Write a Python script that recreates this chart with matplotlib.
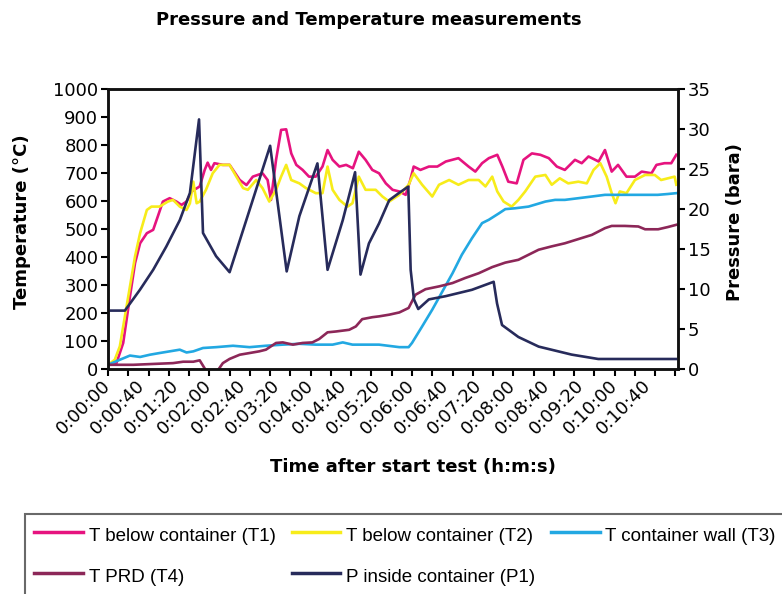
import matplotlib
matplotlib.use('Agg')
import matplotlib.pyplot as plt

# time in seconds, temperature in deg C, pressure in bara
t1_time = [0, 10, 18, 26, 32, 38, 46, 53.5, 59, 65, 73, 81, 87, 93, 99, 108.6, 114.5, 118, 122, 126,
           136, 144, 148, 156, 164, 171.5, 183, 189, 193, 199, 205, 211, 217, 223, 230.5, 238, 246,
           254, 260, 266, 274, 282, 290, 297, 305, 313, 321, 329, 337, 345, 352.5, 358, 362, 370,
           380, 390, 400, 415, 427, 435, 443, 451, 461, 467, 474, 484, 492, 502, 512, 522, 531.5,
           541, 553, 561, 569, 581, 588.5, 596.5, 604, 614, 624, 632, 643.6, 649.5, 659, 667, 673]
t1_temp = [15, 21, 93, 259, 378, 449, 485, 497, 545, 598, 610, 598, 586, 598, 634, 652, 711, 737, 711, 735,
           729, 729, 711, 675, 657, 687, 699, 675, 604, 747, 854, 856, 770, 729, 711, 687, 687,
           723, 782, 747, 723, 729, 717, 776, 747, 711, 699, 663, 640, 634, 622, 675, 723, 711,
           723, 723, 741, 753, 723, 705, 735, 753, 765, 723, 669, 663, 747, 770, 765, 753, 723,
           711, 747, 735, 759, 741, 782, 705, 729, 687, 687, 705, 699, 729, 735, 735, 765]

t2_time = [0, 8, 14, 20, 26, 32, 38, 46, 51.5, 61, 71, 77, 85, 93, 97, 101, 105, 108.6, 116, 124, 132,
           144, 152, 160, 165.6, 175.5, 183, 191, 199, 205, 211, 217, 226.6, 234.5, 246, 254, 260,
           266, 274, 283.6, 289.5, 297, 305, 317, 325, 333, 345, 356, 362, 372, 384, 392, 404, 415,
           427, 439, 447, 455, 461, 468.5, 478, 486, 494, 506, 518, 525.5, 535, 545, 557, 567, 575,
           583, 590.5, 596.5, 601, 606, 614, 624, 636, 647.5, 655, 663, 671, 673]
t2_temp = [15, 33, 81, 188, 295, 402, 485, 568, 580, 580, 598, 604, 580, 568, 592, 669, 592, 598, 640, 699, 729,
           729, 687, 646, 640, 675, 646, 598, 640, 687, 729, 675, 663, 646, 628, 628, 723,
           640, 604, 580, 592, 687, 640, 640, 616, 598, 622, 658, 699, 658, 616, 658, 675, 658,
           675, 675, 652, 687, 634, 598, 580, 604, 634, 687, 693, 658, 681, 663, 669, 663, 711,
           735, 687, 628, 592, 634, 628, 675, 693, 693, 675, 681, 687, 658]

t3_time = [0, 14, 26, 38, 49.6, 61, 73, 85, 93, 101, 112.5, 128, 148, 167.6, 187, 207, 226.6, 246, 266,
           278, 289.5, 305, 321, 337, 345, 356, 360, 372, 384, 396, 408, 419, 431, 443, 451, 463,
           470.5, 482, 498, 518, 529.5, 541, 557, 573, 588.5, 604, 620, 636, 651, 663, 673]
t3_temp = [15, 33, 48, 43, 51, 57, 63, 69, 59, 63, 75, 78, 83, 78, 83, 87, 90, 87, 87,
           95, 87, 87, 87, 81, 78, 78, 93, 152, 212, 277, 342, 408, 467, 521, 533, 556,
           571, 574, 580, 598, 604, 604, 610, 616, 622, 622, 622, 622, 622, 625, 628]

t4_time = [0, 30, 61, 77, 89, 101, 108.6, 120, 130, 136, 144, 156, 167.6, 179, 187, 193, 199, 207,
           219, 230.5, 242, 250, 260, 270, 285.6, 293.5, 301, 313, 321, 333, 345, 356, 364, 376,
           392, 408, 423, 439, 455, 470.5, 486, 498, 510, 525.5, 541, 557, 573, 588.5, 596.5,
           612, 628, 636, 651.5, 663, 673]
t4_temp = [15, 15, 19, 21, 26, 26, 31, -25, -5, 21, 36, 51, 57, 63, 69, 81, 93, 95,
           87, 93, 95, 107, 131, 134, 140, 152, 178, 185, 188, 194, 202, 218, 265, 285,
           295, 307, 325, 342, 364, 380, 390, 408, 426, 438, 449, 464, 479, 503, 511,
           511, 509, 499, 499, 507, 515]

p1_time = [0, 20, 37.8, 53.5, 69, 85, 97, 107.8, 112.5, 128, 144, 192, 211.6, 226.6, 248, 260, 278,
           292.6, 299, 309, 321, 333, 344.6, 355.6, 358.4, 362.3, 367.4, 380, 399.7, 431, 456.7,
           460.7, 466.6, 486, 510, 549, 580.6, 673]
p1_pres = [7.3, 7.3, 9.9, 12.4, 15.3, 18.6, 22.0, 31.2, 17.0, 14.1, 12.1, 27.9, 12.2, 19.1, 25.7, 12.4, 18.6,
           24.6, 11.8, 15.7, 18.2, 21.1, 22.0, 22.8, 12.4, 8.7, 7.5, 8.7, 9.1, 9.9, 10.9,
           8.2, 5.5, 4.0, 2.8, 1.8, 1.25, 1.25]

x_tick_step = 24
x_label_step = 40
x_labels = ['0:00:00', '0:00:40', '0:01:20', '0:02:00', '0:02:40', '0:03:20', '0:04:00', '0:04:40',
            '0:05:20', '0:06:00', '0:06:40', '0:07:20', '0:08:00', '0:08:40', '0:09:20', '0:10:00',
            '0:10:40']
temp_ticks = list(range(0, 1001, 100))
pres_ticks = list(range(0, 36, 5))

c_t1 = '#E6137F'
c_t2 = '#F7EC1A'
c_t3 = '#22A8E2'
c_t4 = '#8C2758'
c_p1 = '#272B5B'

fig = plt.figure(figsize=(7.82, 5.94), dpi=100)
ax = fig.add_axes([108 / 782, 1 - 369 / 594, 570 / 782, 280 / 594])
ax2 = ax.twinx()

lw = 1.9
l1, = ax.plot(t1_time, t1_temp, color=c_t1, lw=lw, label='T below container (T1)')
l2, = ax.plot(t2_time, t2_temp, color=c_t2, lw=lw, label='T below container (T2)')
l3, = ax.plot(t3_time, t3_temp, color=c_t3, lw=lw, label='T container wall (T3)')
l4, = ax.plot(t4_time, t4_temp, color=c_t4, lw=lw, label='T PRD (T4)')
l5, = ax2.plot(p1_time, p1_pres, color=c_p1, lw=lw, label='P inside container (P1)')

ax.set_xlim(0, 675)
ax.set_ylim(0, 1000)
ax2.set_ylim(0, 35)

tick_font = dict(family='DejaVu Sans', size=13)
ax.set_yticks(temp_ticks)
ax.set_yticklabels([str(v) for v in temp_ticks], fontdict=tick_font)
ax2.set_yticks(pres_ticks)
ax2.set_yticklabels([str(v) for v in pres_ticks], fontdict=tick_font)

# tick marks every 24 s, labels every 40 s (like the Excel category axis)
ax.xaxis.remove_overlapping_locs = False
ax.set_xticks(list(range(0, 675, x_tick_step)))
ax.set_xticklabels([])
ax.set_xticks([i * x_label_step for i in range(len(x_labels))], minor=True)
ax.set_xticklabels(x_labels, minor=True, rotation=45, ha='right', va='center',
                   rotation_mode='anchor', fontdict=tick_font)
ax.tick_params(axis='x', which='minor', length=0, pad=10)
ax.tick_params(axis='x', which='major', length=5, width=1.5, direction='out')
ax.tick_params(axis='y', length=5, width=1.5, pad=2)
ax2.tick_params(axis='y', length=5, width=1.5, pad=2)

for a in (ax, ax2):
    for s in a.spines.values():
        s.set_linewidth(1.8)
        s.set_color('#111111')

bold = dict(fontsize=13, fontweight='bold', family='DejaVu Sans')
fig.text(0.472, 1 - 20 / 594, 'Pressure and Temperature measurements', ha='center', va='center', **bold)
fig.text(22 / 782, 1 - 222 / 594, 'Temperature (°C)', rotation=90, ha='center', va='center', **bold)
fig.text(735 / 782, 1 - 222 / 594, 'Pressure (bara)', rotation=90, ha='center', va='center', **bold)
fig.text(413 / 782, 1 - 467 / 594, 'Time after start test (h:m:s)', ha='center', va='center', **bold)

handles = [l1, l4, l2, l5, l3]
leg = fig.legend(handles, [h.get_label() for h in handles], ncol=3,
                 loc='upper left', bbox_to_anchor=(25 / 782, 1 - 514 / 594),
                 prop={'family': 'Liberation Sans', 'size': 13.5},
                 handlelength=2.6, handleheight=1.5, handletextpad=0.3, columnspacing=0.85,
                 labelspacing=0.95, borderpad=0.5, borderaxespad=0, fancybox=False)
leg.get_frame().set_edgecolor('#444444')
leg.get_frame().set_linewidth(1.5)
for h in leg.legend_handles:
    h.set_linewidth(2.5)

fig.savefig('out.png', dpi=100)
